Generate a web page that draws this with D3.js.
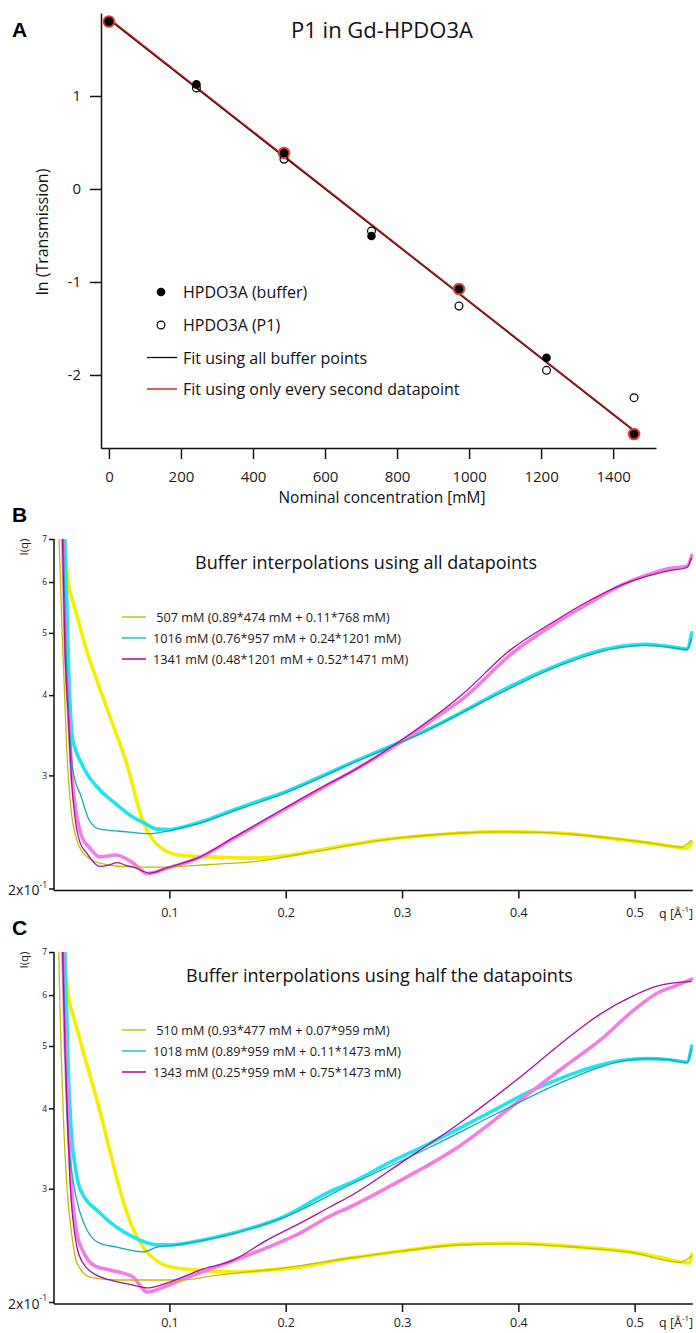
<!DOCTYPE html>
<html>
<head>
<meta charset="utf-8">
<script src="https://cdn.jsdelivr.net/npm/d3@7"></script>
<style>
  body { margin: 0; background: #fff; }
  svg { display: block; font-family: "Open Sans", "Noto Sans", sans-serif; }
  .pre { white-space: pre; }
</style>
</head>
<body>
<svg id="fig" width="696" height="1333"></svg>
<script>
// ---------------- Panel A data: ln(transmission) vs nominal concentration ----------------
const concentrations = [0, 243, 486, 729, 972, 1215, 1458];
const lnTBuffer = [1.80, 1.125, 0.387, -0.505, -1.075, -1.814, -2.634];
const lnTP1 = [1.80, 1.086, 0.319, -0.452, -1.258, -1.95, -2.244];
const concTicks = [0, 200, 400, 600, 800, 1000, 1200, 1400];
const lnTicks = [-2, -1, 0, 1];
const legendA = ["HPDO3A (buffer)", "HPDO3A (P1)", "Fit using all buffer points", "Fit using only every second datapoint"];

// ---------------- Panels B and C data: I(q) curves, pairs of [q, I] ----------------
const qTicks = [0.1, 0.2, 0.3, 0.4, 0.5];
const iTicks = [0.2, 0.3, 0.4, 0.5, 0.6, 0.7];

const bMeas507 = [[0.0095,0.76],[0.0102,0.69],[0.013,0.60],[0.017,0.56],[0.022,0.52],[0.028,0.475],[0.038,0.42],[0.049,0.37],[0.064,0.31],[0.077,0.255],[0.086,0.238],[0.092,0.232],[0.100,0.2275],[0.107,0.2255],[0.120,0.2245],[0.141,0.2238],[0.170,0.2230],[0.198,0.2246],[0.225,0.2290],[0.255,0.2340],[0.290,0.2390],[0.324,0.2420],[0.350,0.2440],[0.382,0.2450],[0.420,0.2445],[0.450,0.2430],[0.470,0.2405],[0.500,0.2370],[0.530,0.2330],[0.545,0.2310],[0.549,0.2360]];
const bFit507 = [[0.0045,0.76],[0.0051,0.70],[0.0077,0.505],[0.0117,0.33],[0.016,0.26],[0.019,0.243],[0.026,0.227],[0.040,0.219],[0.068,0.216],[0.097,0.216],[0.126,0.2175],[0.155,0.219],[0.180,0.221],[0.198,0.2238],[0.230,0.229],[0.255,0.2335],[0.300,0.2400],[0.350,0.2440],[0.382,0.2450],[0.420,0.2445],[0.450,0.2425],[0.480,0.2395],[0.510,0.2360],[0.540,0.2320],[0.549,0.2380]];
const bMeas1016 = [[0.0098,0.76],[0.0105,0.65],[0.0118,0.56],[0.013,0.46],[0.0145,0.39],[0.016,0.35],[0.019,0.33],[0.023,0.317],[0.030,0.300],[0.040,0.285],[0.055,0.270],[0.069,0.258],[0.080,0.252],[0.089,0.2474],[0.100,0.2470],[0.112,0.2494],[0.130,0.2550],[0.155,0.2650],[0.175,0.2730],[0.198,0.2820],[0.225,0.2960],[0.255,0.3130],[0.290,0.3330],[0.324,0.3550],[0.350,0.3750],[0.382,0.4030],[0.410,0.4270],[0.4385,0.4490],[0.468,0.4680],[0.490,0.4770],[0.510,0.4800],[0.530,0.4760],[0.545,0.4720],[0.549,0.5000]];
const bFit1016 = [[0.0085,0.76],[0.0095,0.62],[0.011,0.48],[0.013,0.39],[0.016,0.317],[0.0195,0.292],[0.023,0.2816],[0.031,0.2557],[0.040,0.2474],[0.055,0.2458],[0.068,0.2445],[0.080,0.2435],[0.089,0.2440],[0.100,0.2460],[0.112,0.2490],[0.130,0.2540],[0.155,0.2640],[0.198,0.2810],[0.255,0.3120],[0.324,0.3540],[0.382,0.4010],[0.4385,0.4470],[0.468,0.4660],[0.490,0.4750],[0.510,0.4780],[0.530,0.4750],[0.545,0.4710],[0.549,0.4900]];
const bMeas1341 = [[0.0078,0.78],[0.0105,0.48],[0.0135,0.37],[0.0165,0.295],[0.020,0.262],[0.025,0.240],[0.031,0.232],[0.040,0.224],[0.054,0.2255],[0.069,0.219],[0.081,0.211],[0.098,0.215],[0.126,0.2235],[0.155,0.239],[0.198,0.265],[0.238,0.291],[0.2957,0.335],[0.330,0.370],[0.3525,0.395],[0.393,0.462],[0.430,0.515],[0.460,0.555],[0.490,0.595],[0.510,0.615],[0.530,0.630],[0.545,0.635],[0.549,0.660]];
const bFit1341 = [[0.0075,0.78],[0.0102,0.47],[0.0131,0.370],[0.016,0.292],[0.0188,0.258],[0.0231,0.236],[0.029,0.227],[0.040,0.2165],[0.048,0.2175],[0.055,0.2195],[0.062,0.2175],[0.069,0.216],[0.083,0.2114],[0.098,0.2155],[0.126,0.2238],[0.155,0.240],[0.198,0.266],[0.238,0.292],[0.255,0.303],[0.2957,0.337],[0.3525,0.402],[0.393,0.470],[0.430,0.520],[0.460,0.560],[0.490,0.595],[0.510,0.612],[0.530,0.625],[0.545,0.632],[0.549,0.655]];

const cMeas510 = [[0.0095,0.76],[0.0102,0.69],[0.013,0.60],[0.017,0.56],[0.022,0.52],[0.028,0.475],[0.038,0.41],[0.046,0.36],[0.055,0.31],[0.0635,0.275],[0.0773,0.2434],[0.092,0.230],[0.1066,0.2258],[0.126,0.2242],[0.155,0.2226],[0.184,0.2242],[0.2123,0.2266],[0.2553,0.2341],[0.300,0.2400],[0.324,0.2434],[0.3525,0.2460],[0.3954,0.2467],[0.453,0.2434],[0.496,0.2393],[0.520,0.2350],[0.539,0.2308],[0.547,0.2300],[0.549,0.2370]];
const cFit510 = [[0.0045,0.76],[0.0055,0.62],[0.0068,0.50],[0.009,0.38],[0.012,0.30],[0.016,0.255],[0.0205,0.2299],[0.0317,0.2187],[0.055,0.2164],[0.083,0.2164],[0.112,0.2164],[0.141,0.2202],[0.198,0.2258],[0.2553,0.2341],[0.300,0.2400],[0.3525,0.2455],[0.3954,0.2462],[0.453,0.2430],[0.496,0.2390],[0.539,0.2305],[0.549,0.2360]];
const cMeas1018 = [[0.0098,0.76],[0.0105,0.65],[0.0118,0.56],[0.013,0.46],[0.0145,0.40],[0.016,0.36],[0.019,0.325],[0.0231,0.300],[0.0403,0.275],[0.0687,0.2524],[0.0893,0.2454],[0.103,0.2454],[0.130,0.250],[0.155,0.256],[0.198,0.2711],[0.238,0.297],[0.2553,0.306],[0.290,0.330],[0.324,0.353],[0.350,0.373],[0.382,0.400],[0.410,0.425],[0.4385,0.447],[0.468,0.466],[0.490,0.475],[0.510,0.478],[0.530,0.476],[0.545,0.472],[0.549,0.500]];
const cFit1018 = [[0.0085,0.76],[0.0095,0.60],[0.011,0.45],[0.013,0.36],[0.0171,0.3095],[0.0230,0.276],[0.0291,0.2588],[0.0403,0.2467],[0.0549,0.2434],[0.0773,0.2393],[0.0893,0.2434],[0.103,0.2450],[0.130,0.2495],[0.155,0.2555],[0.198,0.2705],[0.255,0.3040],[0.324,0.3480],[0.382,0.3930],[0.4385,0.4400],[0.468,0.4620],[0.490,0.4740],[0.510,0.4780],[0.530,0.4760],[0.545,0.4710],[0.549,0.4950]];
const cMeas1343 = [[0.0078,0.78],[0.0105,0.50],[0.013,0.38],[0.016,0.30],[0.0205,0.255],[0.0257,0.240],[0.035,0.228],[0.0489,0.2242],[0.0687,0.2187],[0.0807,0.2073],[0.098,0.212],[0.1117,0.2170],[0.141,0.2270],[0.1839,0.2430],[0.2123,0.2560],[0.238,0.272],[0.2553,0.281],[0.300,0.310],[0.350,0.350],[0.400,0.410],[0.440,0.465],[0.470,0.510],[0.500,0.570],[0.520,0.605],[0.535,0.620],[0.549,0.635]];
const cFit1343 = [[0.0075,0.78],[0.0102,0.50],[0.0125,0.38],[0.0145,0.31],[0.0205,0.2434],[0.0257,0.2299],[0.0343,0.2218],[0.0489,0.2164],[0.0687,0.2125],[0.0807,0.2103],[0.098,0.2141],[0.1263,0.2242],[0.1547,0.2324],[0.1839,0.2496],[0.2123,0.2652],[0.238,0.281],[0.2553,0.292],[0.300,0.330],[0.350,0.380],[0.400,0.445],[0.440,0.510],[0.470,0.560],[0.500,0.600],[0.520,0.620],[0.549,0.630]];

const legendB = [" 507 mM (0.89*474 mM + 0.11*768 mM)", "1016 mM (0.76*957 mM + 0.24*1201 mM)", "1341 mM (0.48*1201 mM + 0.52*1471 mM)"];
const legendC = [" 510 mM (0.93*477 mM + 0.07*959 mM)", "1018 mM (0.89*959 mM + 0.11*1473 mM)", "1343 mM (0.25*959 mM + 0.75*1473 mM)"];

// Colours: bright for measured buffers, darker for interpolations
const measColors = ["#f4ee00", "#22e4ee", "#f27ee4"];
const fitColors = ["#c4bc00", "#1aa9a9", "#a8109a"];
const legendColors = ["#c8c230", "#2ec6c8", "#b0179e"];

const svg = d3.select("#fig");
const plainNum = d => (d < 0 ? "-" + Math.abs(d) : String(d));

function styleAxis(g, fontSize) {
  g.selectAll(".domain").attr("stroke", "#111").attr("stroke-width", 1.5);
  g.selectAll(".tick line").attr("stroke", "#111").attr("stroke-width", 1.5);
  g.selectAll(".tick text").attr("fill", "#1a1a1a").attr("font-size", fontSize)
    .attr("font-family", "'Open Sans', sans-serif");
}

function linFit(xs, ys) {
  const mx = d3.mean(xs), my = d3.mean(ys);
  let sxy = 0, sxx = 0;
  xs.forEach((x, i) => { sxy += (x - mx) * (ys[i] - my); sxx += (x - mx) * (x - mx); });
  const slope = sxy / sxx;
  return { slope, intercept: my - slope * mx };
}

// ================= Panel A =================
(function drawA() {
  const g = svg.append("g");
  const x = d3.scaleLinear().domain([-22, 1519]).range([101, 656]);
  const y = d3.scaleLinear().domain([-2.785, 1.892]).range([448, 13]);

  const gx = g.append("g").attr("transform", "translate(0,448)")
    .call(d3.axisBottom(x).tickValues(concTicks).tickSize(11).tickSizeOuter(0).tickPadding(12).tickFormat(plainNum));
  styleAxis(gx, 15);
  const gy = g.append("g").attr("transform", "translate(101,0)")
    .call(d3.axisLeft(y).tickValues(lnTicks).tickSize(11).tickSizeOuter(0).tickPadding(9).tickFormat(plainNum));
  styleAxis(gy, 15);

  // linear fits: all buffer points, and every second buffer point
  const fitAll = linFit(concentrations, lnTBuffer);
  const evenIdx = concentrations.map((_, i) => i).filter(i => i % 2 === 0);
  const fitHalf = linFit(evenIdx.map(i => concentrations[i]), evenIdx.map(i => lnTBuffer[i]));
  const cExt = d3.extent(concentrations);
  [[fitAll, "#111", 1.8], [fitHalf, "#cc1a1a", 1.3]].forEach(([f, col, w]) => {
    g.append("line")
      .attr("x1", x(cExt[0])).attr("y1", y(f.intercept + f.slope * cExt[0]))
      .attr("x2", x(cExt[1])).attr("y2", y(f.intercept + f.slope * cExt[1]))
      .attr("stroke", col).attr("stroke-width", w);
  });

  // red markers on the points used by the half fit
  g.selectAll(".halo").data(evenIdx).join("circle")
    .attr("cx", i => x(concentrations[i])).attr("cy", i => y(lnTBuffer[i]))
    .attr("r", 6.3).attr("fill", "#e2403a");
  g.selectAll(".buf").data(concentrations).join("circle")
    .attr("cx", d => x(d)).attr("cy", (d, i) => y(lnTBuffer[i]))
    .attr("r", 4.3).attr("fill", "#000");
  g.selectAll(".p1").data(concentrations).join("circle")
    .attr("cx", d => x(d)).attr("cy", (d, i) => y(lnTP1[i]))
    .attr("r", 3.9).attr("fill", "none").attr("stroke", "#000").attr("stroke-width", 1.2);

  // legend
  const lg = g.append("g").attr("font-size", 16).attr("fill", "#111");
  const rows = [292, 325, 357.5, 389];
  lg.append("circle").attr("cx", 161).attr("cy", rows[0]).attr("r", 4.3).attr("fill", "#000");
  lg.append("circle").attr("cx", 161).attr("cy", rows[1]).attr("r", 3.9).attr("fill", "none").attr("stroke", "#000").attr("stroke-width", 1.2);
  lg.append("line").attr("x1", 147).attr("x2", 177).attr("y1", rows[2]).attr("y2", rows[2]).attr("stroke", "#111").attr("stroke-width", 1.3);
  lg.append("line").attr("x1", 147).attr("x2", 177).attr("y1", rows[3]).attr("y2", rows[3]).attr("stroke", "#d42a2a").attr("stroke-width", 1.5);
  legendA.forEach((t, i) => lg.append("text").attr("x", 183).attr("y", rows[i] + 6).text(t));

  g.append("text").attr("x", 382).attr("y", 38).attr("text-anchor", "middle")
    .attr("font-size", 22).attr("fill", "#111").text("P1 in Gd-HPDO3A");
  g.append("text").attr("transform", "translate(48,232) rotate(-90)").attr("text-anchor", "middle")
    .attr("font-size", 16).attr("fill", "#111").text("ln (Transmission)");
  g.append("text").attr("x", 382).attr("y", 503).attr("text-anchor", "middle")
    .attr("font-size", 15.4).attr("fill", "#111").text("Nominal concentration [mM]");
  g.append("text").attr("x", 12).attr("y", 37).attr("font-size", 21).attr("font-weight", "bold")
    .attr("font-family", "'Liberation Sans', Arial, sans-serif").text("A");
})();

// ================= Panels B and C =================
function drawSaxs(cfg) {
  const g = svg.append("g");
  const x = d3.scaleLinear().domain([0, 0.55]).range([53.1, 692.8]);
  const y = d3.scaleLog().domain([0.2, 0.7]).range([cfg.bottom, cfg.top]);
  const axisY = cfg.bottom + 2;

  g.append("clipPath").attr("id", cfg.id).append("rect")
    .attr("x", 55).attr("y", cfg.top).attr("width", 640).attr("height", axisY - cfg.top - 1);
  const plot = g.append("g").attr("clip-path", `url(#${cfg.id})`);
  const line = d3.line().x(d => x(d[0])).y(d => y(d[1])).curve(d3.curveMonotoneX);

  cfg.meas.forEach((s, i) => plot.append("path").datum(s).attr("d", line)
    .attr("fill", "none").attr("stroke", measColors[i]).attr("stroke-width", 3.6)
    .attr("stroke-linejoin", "round").attr("stroke-linecap", "round"));
  cfg.fits.forEach((s, i) => plot.append("path").datum(s).attr("d", line)
    .attr("fill", "none").attr("stroke", fitColors[i]).attr("stroke-width", 1.3)
    .attr("stroke-linejoin", "round"));

  // axes
  const gx = g.append("g").attr("transform", `translate(0,${axisY})`)
    .call(d3.axisBottom(x).tickValues(qTicks).tickSize(8).tickSizeOuter(0).tickPadding(cfg.tickPad)
      .tickFormat(d3.format(".1f")));
  styleAxis(gx, 12.5);
  gx.select(".domain").attr("d", `M54,0H${x(0.55)}`);

  const gy = g.append("g").attr("transform", "translate(54,0)")
    .call(d3.axisLeft(y).tickValues(iTicks).tickSize(5).tickSizeOuter(0).tickPadding(2)
      .tickFormat(d => d3.format(".0f")(d * 10)));
  styleAxis(gy, 8.5);
  gy.select(".domain").attr("d", `M0,${axisY}V${cfg.top}`);
  gy.selectAll(".tick text").filter(d => d === 0.2).each(function () {
    const t = d3.select(this).text("").attr("font-size", 14).attr("dy", "0.45em");
    t.append("tspan").text("2x10");
    t.append("tspan").attr("font-size", 8.5).attr("dy", "-0.9em").text("-1");
  });

  // q axis label with superscript
  const ql = g.append("text").attr("x", 659).attr("y", axisY + cfg.tickPad + 17).attr("font-size", 12.5).attr("fill", "#1a1a1a");
  ql.append("tspan").text("q [Å");
  ql.append("tspan").attr("font-size", 8).attr("dy", -6).text("-1");
  ql.append("tspan").attr("dy", 6).text("]");

  g.append("text").attr("transform", `translate(28,${cfg.top + 8}) rotate(-90)`).attr("text-anchor", "middle")
    .attr("font-size", 11.5).attr("fill", "#1a1a1a").text("I(q)");
  g.append("text").attr("x", 12).attr("y", cfg.top - 17).attr("font-size", 21).attr("font-weight", "bold")
    .attr("font-family", "'Liberation Sans', Arial, sans-serif").text(cfg.letter);
  g.append("text").attr("x", cfg.titleX).attr("y", cfg.top + 30).attr("font-size", 18).attr("fill", "#111")
    .text(cfg.title);

  cfg.legend.forEach((t, i) => {
    const yy = cfg.top + 78 + i * 21;
    g.append("line").attr("x1", 122).attr("x2", 146).attr("y1", yy).attr("y2", yy)
      .attr("stroke", legendColors[i]).attr("stroke-width", 1.6);
    g.append("text").attr("class", "pre").attr("x", 153).attr("y", yy + 4.5)
      .attr("font-size", 12.7).attr("fill", "#1a1a1a").text(t);
  });
}

drawSaxs({
  id: "clipB", letter: "B", top: 539, bottom: 888.5, titleX: 195, tickPad: 10,
  title: "Buffer interpolations using all datapoints",
  meas: [bMeas507, bMeas1016, bMeas1341], fits: [bFit507, bFit1016, bFit1341], legend: legendB
});
drawSaxs({
  id: "clipC", letter: "C", top: 952, bottom: 1302, titleX: 186, tickPad: 6,
  title: "Buffer interpolations using half the datapoints",
  meas: [cMeas510, cMeas1018, cMeas1343], fits: [cFit510, cFit1018, cFit1343], legend: legendC
});
</script>
</body>
</html>
